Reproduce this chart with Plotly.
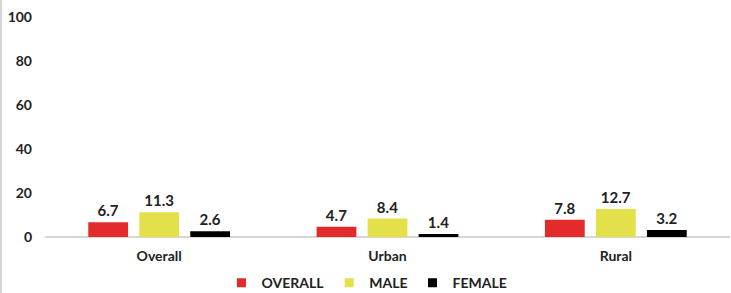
import plotly.graph_objects as go

categories = ["Overall", "Urban", "Rural"]
overall = [6.7, 4.7, 7.8]
male = [11.3, 8.4, 12.7]
female = [2.6, 1.4, 3.2]
series_names = ["OVERALL", "MALE", "FEMALE"]
colors = ["#E32B2B", "#E3E04C", "#000000"]
y_ticks = [0, 20, 40, 60, 80, 100]

FONT = "Lato, 'Open Sans', sans-serif"

fig = go.Figure()
for name, vals, col in zip(series_names, [overall, male, female], colors):
    fig.add_trace(go.Bar(
        x=categories, y=vals, name=name, marker_color=col,
        marker_line_width=0, showlegend=False, legendgroup=name,
        text=[f"{v:.1f}" for v in vals], textposition="outside",
        textfont=dict(family=FONT, size=15, color="#222222", weight="bold"),
        cliponaxis=False,
    ))
for name, col in zip(series_names, colors):
    fig.add_trace(go.Scatter(
        x=[None], y=[None], mode="markers", name=name, legendgroup=name,
        marker=dict(symbol="square", size=9, color=col),
    ))

fig.update_layout(
    width=731, height=293,
    margin=dict(l=45, r=1, t=17, b=56, autoexpand=False),
    paper_bgcolor="white", plot_bgcolor="white",
    barmode="group", bargap=0.33, bargroupgap=0.22,
    font=dict(family=FONT, color="#222222"),
    showlegend=True,
    legend=dict(orientation="h", x=0.47, xanchor="center", y=-0.21, yanchor="middle",
                font=dict(family=FONT, size=14, color="#222222", weight="bold"),
                itemwidth=30, tracegroupgap=0),
    xaxis=dict(showgrid=False, showline=False, zeroline=False, ticks="",
               automargin=False, ticklabelstandoff=9,
               tickfont=dict(family=FONT, size=14, color="#222222", weight="bold")),
    yaxis=dict(range=[0, 100], tickvals=y_ticks, showgrid=False, zeroline=True,
               zerolinecolor="#D6D6D6", zerolinewidth=1.5, showline=False,
               automargin=False, ticklabelstandoff=12,
               tickfont=dict(family=FONT, size=14, color="#222222", weight="bold")),
    shapes=[dict(type="line", xref="paper", yref="paper",
                 x0=-44/685, x1=-44/685, y0=-56/220, y1=1 + 17/220,
                 line=dict(color="#C8C8C8", width=1.5))],
)

fig.write_html("out.html", config={"displayModeBar": False},
               post_script="document.body.style.margin='0px';")
